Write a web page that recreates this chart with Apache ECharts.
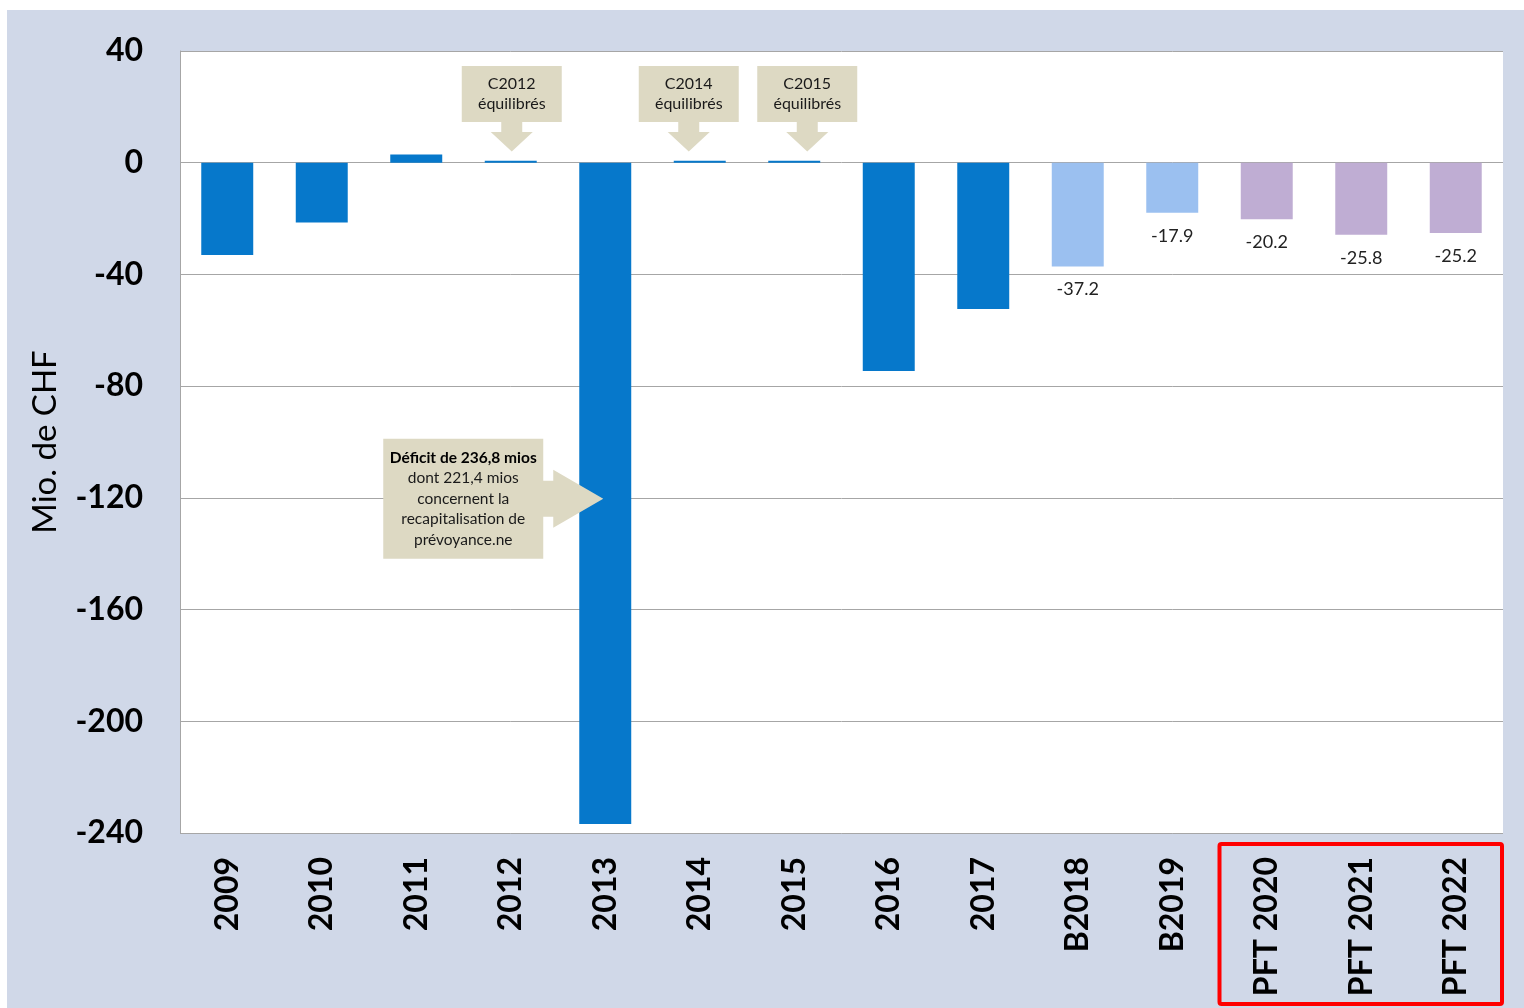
<!DOCTYPE html>
<html>
<head>
<meta charset="utf-8">
<title>Résultats des comptes</title>
<script src="https://cdn.jsdelivr.net/npm/echarts@6/dist/echarts.min.js"></script>
<style>
  html, body { margin: 0; padding: 0; background: #fff; }
  #chart { position: absolute; left: 7px; top: 10px; width: 1517px; height: 998px; }
</style>
</head>
<body>
<div id="chart"></div>
<script>
// comptes (C), budgets (B) et plan financier (PFT)
var categories = ['2009', '2010', '2011', '2012', '2013', '2014', '2015', '2016', '2017',
  'B2018', 'B2019', 'PFT 2020', 'PFT 2021', 'PFT 2022'];
var values = [-33.0, -21.4, 2.9, 0.7, -236.8, 0.7, 0.7, -74.6, -52.4,
  -37.2, -17.9, -20.2, -25.8, -25.2];

var yMin = -240;
var yMax = 40;
var yStep = 40;

var colors = {
  compte: '#0678CB',
  budget: '#9BC0F0',
  plan: '#BFADD3',
  note: '#DDD9C3',
  grid: '#A6A6A6',
  panel: '#D0D8E8'
};

// kind of column, from the category name
function kindOf(cat) {
  if (cat.indexOf('PFT') === 0) return 'plan';
  if (cat.charAt(0) === 'B') return 'budget';
  return 'compte';
}

var chart = echarts.init(document.getElementById('chart'));

var barData = categories.map(function (cat, i) {
  var kind = kindOf(cat);
  return {
    value: values[i],
    itemStyle: { color: colors[kind] },
    label: { show: kind !== 'compte' }
  };
});

var option = {
  backgroundColor: colors.panel,
  animation: false,
  grid: {
    left: 173, right: 21, top: 41, bottom: 175,
    show: true, backgroundColor: '#fff', borderWidth: 0
  },
  xAxis: {
    type: 'category',
    data: categories,
    axisLine: { show: false, onZero: false },
    axisTick: { show: false },
    axisLabel: {
      interval: 0, rotate: 90, margin: 24,
      fontFamily: 'Lato', fontWeight: 'bold', fontSize: 32, color: '#000'
    }
  },
  yAxis: {
    type: 'value',
    min: yMin, max: yMax, interval: yStep,
    name: 'Mio. de CHF',
    nameLocation: 'middle',
    nameGap: 118,
    nameTextStyle: { fontFamily: 'Lato', fontSize: 33, color: '#000' },
    axisLine: { show: true, lineStyle: { color: colors.grid, width: 1 } },
    axisTick: { show: false },
    splitLine: { lineStyle: { color: colors.grid, width: 1 } },
    axisLabel: {
      margin: 37,
      padding: [4, 0, 0, 0],
      fontFamily: 'Lato', fontWeight: 'bold', fontSize: 32, color: '#000'
    }
  },
  series: [{
    type: 'bar',
    barWidth: '55%',
    data: barData,
    label: {
      position: 'bottom',
      distance: 14,
      fontFamily: 'Lato',
      fontSize: 18,
      color: '#222',
      formatter: function (p) { return p.value.toFixed(1); }
    }
  }]
};

chart.setOption(option);

// annotation boxes, anchored on the axes (shift keeps 2014/2015 apart)
var smallNotes = [
  { cat: '2012', shift: 1, text: 'C2012\néquilibrés' },
  { cat: '2014', shift: -11, text: 'C2014\néquilibrés' },
  { cat: '2015', shift: 13, text: 'C2015\néquilibrés' }
];

function px(cat, v) {
  return chart.convertToPixel({ seriesIndex: 0 }, [cat, v]);
}

function smallCallout(note) {
  var tip = px(note.cat, 4);
  var top = px(note.cat, 34.6);
  var x = tip[0] + note.shift, yTip = tip[1], yTop = top[1];
  var boxH = 56, shaftH = 10;
  var yBox = yTop + boxH, yShaft = yBox + shaftH;
  return [{
    type: 'polygon',
    shape: {
      points: [
        [x - 50, yTop], [x + 50, yTop], [x + 50, yBox], [x + 10.5, yBox],
        [x + 10.5, yShaft], [x + 21, yShaft], [x, yTip], [x - 21, yShaft],
        [x - 10.5, yShaft], [x - 10.5, yBox], [x - 50, yBox]
      ]
    },
    style: { fill: colors.note },
    z: 10
  }, {
    type: 'text',
    style: {
      text: note.text, x: x, y: yTop + boxH / 2,
      align: 'center', verticalAlign: 'middle',
      textAlign: 'center', textVerticalAlign: 'middle',
      font: '16px Lato', fill: '#1a1a1a', lineHeight: 20
    },
    z: 11
  }];
}

function bigCallout() {
  var tip = px('2013', -120);
  var x = tip[0] - 2, y = tip[1] + 1;
  var bx = x - 220, bw = 160, bh = 120;
  var by = y - bh / 2;
  var sx = bx + bw, hx = sx + 10;
  return [{
    type: 'polygon',
    shape: {
      points: [
        [bx, by], [sx, by], [sx, y - 18], [hx, y - 18], [hx, y - 29], [x, y],
        [hx, y + 29], [hx, y + 18], [sx, y + 18], [sx, by + bh], [bx, by + bh]
      ]
    },
    style: { fill: colors.note },
    z: 10
  }, {
    type: 'text',
    style: {
      text: '{b|Déficit de 236,8 mios}\ndont 221,4 mios\nconcernent la\nrecapitalisation de\nprévoyance.ne',
      x: bx + bw / 2, y: y,
      align: 'center', verticalAlign: 'middle',
      textAlign: 'center', textVerticalAlign: 'middle',
      font: '15.5px Lato', fill: '#1a1a1a', lineHeight: 20.5,
      rich: { b: { fontWeight: 'bold', fontSize: 15.5, fontFamily: 'Lato', lineHeight: 20.5, fill: '#000' } }
    },
    z: 11
  }];
}

function planFrame() {
  var first = px('PFT 2020', 0)[0];
  var band = px('PFT 2021', 0)[0] - first;
  var rect = chart.getModel().getComponent('grid').coordinateSystem.getRect();
  var left = first - band / 2;
  var right = rect.x + rect.width - 1;
  var top = rect.y + rect.height + 11;
  var bottom = chart.getHeight() - 4;
  return [{
    type: 'rect',
    shape: { x: left, y: top, width: right - left, height: bottom - top, r: 2 },
    style: { fill: null, stroke: '#FF0000', lineWidth: 4 },
    z: 12
  }];
}

var elements = [];
smallNotes.forEach(function (n) { elements = elements.concat(smallCallout(n)); });
elements = elements.concat(bigCallout(), planFrame());

chart.setOption({ graphic: { elements: elements } });
</script>
</body>
</html>
